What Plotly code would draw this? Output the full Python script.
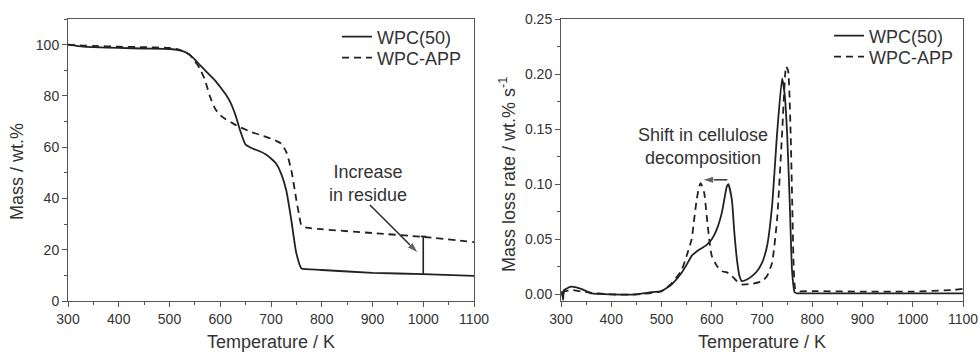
import plotly.graph_objects as go

# ---------- data: TGA (left) ----------
tga_T_wpc = [300, 330, 350, 400, 450, 500, 520, 530, 540, 550, 560, 570, 580, 590, 600, 610, 620, 630,
             640, 650, 660, 670, 680, 690, 700, 710, 720, 730, 740, 750, 760, 770, 800, 900, 1000, 1100]
tga_m_wpc = [100, 99.2, 99.0, 98.7, 98.5, 98.3, 97.8, 97.2, 96.0, 94.2, 92.0, 90.0, 88.0, 86.0, 83.5, 80.8, 77.5,
             72.5, 66.0, 61.0, 59.8, 59.0, 58.2, 57.1, 55.6, 53.6, 49.7, 43.2, 31.6, 18.6, 12.7, 12.4, 12.1,
             11.0, 10.5, 9.8]

tga_T_app = [300, 330, 350, 400, 450, 500, 520, 540, 550, 560, 570, 580, 590, 600, 610, 620, 630, 640,
             660, 680, 700, 710, 720, 730, 740, 750, 755, 760, 770, 800, 900, 1000, 1100]
tga_m_app = [100, 99.6, 99.5, 99.2, 99.0, 98.7, 98.0, 96.0, 93.5, 90.6, 86.1, 79.6, 75.0, 72.5, 71.0, 69.9, 68.7, 67.7,
             66.0, 64.7, 63.4, 62.5, 61.4, 58.2, 51.0, 39.4, 34.0, 29.6, 28.6, 28.0, 26.5, 25.0, 23.0]

# ---------- data: DTG (right) ----------
dtg_T_wpc = [302, 304, 306, 310, 320, 340, 360, 400, 450, 480, 500, 520, 540, 550, 560, 570, 580, 590, 600,
             610, 620, 630, 633, 640, 645, 650, 655, 660, 670, 680, 690, 700, 710, 720, 730, 740, 745, 750,
             755, 760, 765, 770, 800, 900, 1000, 1100]
dtg_r_wpc = [0.003, -0.005, 0.004, 0.005, 0.007, 0.005, 0.001, 0.0, 0.0, 0.002, 0.003, 0.009, 0.0196, 0.027, 0.035,
             0.039, 0.042, 0.045, 0.050, 0.059, 0.074, 0.098, 0.100, 0.086, 0.056, 0.032, 0.017, 0.012, 0.0135,
             0.0166, 0.021, 0.0286, 0.0437, 0.080, 0.146, 0.196, 0.182, 0.146, 0.086, 0.020, 0.002, 0.001,
             0.001, 0.001, 0.001, 0.001]

dtg_T_app = [302, 304, 306, 310, 320, 350, 400, 450, 500, 520, 540, 550, 560, 565, 570, 575, 578, 585, 590, 595,
             600, 610, 620, 630, 640, 650, 660, 680, 700, 710, 720, 730, 740, 748, 752, 757, 760, 763, 766,
             770, 800, 900, 1000, 1080, 1100]
dtg_r_app = [0.002, -0.004, 0.003, 0.003, 0.004, 0.002, 0.0, 0.0, 0.003, 0.010, 0.022, 0.035, 0.050, 0.068, 0.086,
             0.098, 0.101, 0.092, 0.071, 0.050, 0.035, 0.026, 0.021, 0.020, 0.0166, 0.012, 0.009, 0.0096,
             0.012, 0.0166, 0.0286, 0.068, 0.146, 0.207, 0.203, 0.146, 0.086, 0.026, 0.005, 0.003, 0.003,
             0.0025, 0.0025, 0.004, 0.005]

series_names = ["WPC(50)", "WPC-APP"]
x_ticks = [300, 400, 500, 600, 700, 800, 900, 1000, 1100]

# annotation anchors (data coordinates)
residue_arrow_T = [895, 990]
residue_arrow_m = [37.4, 18.7]
residue_bar_T = 1000
residue_bar_m = [10.5, 25.2]
shift_arrow_T = [631, 581]
shift_arrow_r = [0.104, 0.104]

INK = "#222222"
FRAME = "#555555"
TXT = "#333333"
FONT = "Liberation Sans, Arial, sans-serif"
DASH = "7px,5px"

fig = go.Figure()
fig.add_trace(go.Scatter(x=tga_T_wpc, y=tga_m_wpc, mode="lines", name=series_names[0],
                         line=dict(color=INK, width=1.8, shape="spline", smoothing=0.6),
                         xaxis="x", yaxis="y", legend="legend"))
fig.add_trace(go.Scatter(x=tga_T_app, y=tga_m_app, mode="lines", name=series_names[1],
                         line=dict(color=INK, width=1.8, dash=DASH, shape="spline", smoothing=0.6),
                         xaxis="x", yaxis="y", legend="legend2"))
fig.add_trace(go.Scatter(x=dtg_T_wpc, y=dtg_r_wpc, mode="lines", name=series_names[0],
                         line=dict(color=INK, width=1.8, shape="spline", smoothing=0.5),
                         xaxis="x2", yaxis="y2", legend="legend3"))
fig.add_trace(go.Scatter(x=dtg_T_app, y=dtg_r_app, mode="lines", name=series_names[1],
                         line=dict(color=INK, width=1.8, dash=DASH, shape="spline", smoothing=0.5),
                         xaxis="x2", yaxis="y2", legend="legend4"))

# arrows
fig.add_trace(go.Scatter(x=residue_arrow_T, y=residue_arrow_m, mode="lines+markers", showlegend=False,
                         line=dict(color=INK, width=1.4),
                         marker=dict(symbol="arrow", angleref="previous", size=[0, 12], color=INK),
                         xaxis="x", yaxis="y", hoverinfo="skip"))
fig.add_trace(go.Scatter(x=[residue_bar_T, residue_bar_T], y=residue_bar_m, mode="lines", showlegend=False,
                         line=dict(color=INK, width=1.6), xaxis="x", yaxis="y", hoverinfo="skip"))
fig.add_trace(go.Scatter(x=[residue_bar_T - 5, residue_bar_T + 5], y=[residue_bar_m[1]] * 2, mode="lines",
                         showlegend=False, line=dict(color=INK, width=1.6), xaxis="x", yaxis="y",
                         hoverinfo="skip"))
fig.add_trace(go.Scatter(x=shift_arrow_T, y=shift_arrow_r, mode="lines+markers", showlegend=False,
                         line=dict(color=INK, width=1.4),
                         marker=dict(symbol="arrow", angleref="previous", size=[0, 12], color=INK),
                         xaxis="x2", yaxis="y2", hoverinfo="skip"))

W, H = 980, 352
ydom = [1 - 301 / H, 1 - 19 / H]

common_x = dict(
    tickvals=x_ticks, ticks="outside", ticklen=5, tickwidth=1, tickcolor=FRAME,
    showline=True, linecolor=FRAME, linewidth=1, mirror=True, showgrid=False, zeroline=False,
    tickfont=dict(size=14, color=TXT, family=FONT), automargin=False,
    minor=dict(ticks="outside", ticklen=3, dtick=50, tickcolor=FRAME, showgrid=False),
)


def leg(xpx, ypx):
    return dict(x=xpx / W, y=1 - ypx / H, xanchor="left", yanchor="middle",
                bgcolor="rgba(0,0,0,0)", font=dict(size=18, color=TXT, family=FONT),
                borderwidth=0)


fig.update_layout(
    width=W, height=H,
    margin=dict(l=0, r=0, t=0, b=0, autoexpand=False),
    paper_bgcolor="white", plot_bgcolor="white",
    font=dict(family=FONT, color=TXT),
    xaxis=dict(domain=[68 / W, 474 / W], range=[300, 1100], anchor="y", **common_x),
    yaxis=dict(domain=ydom, range=[0, 110], anchor="x", automargin=False,
               tickvals=[0, 20, 40, 60, 80, 100], ticks="outside", ticklen=5, tickcolor=FRAME,
               showline=True, linecolor=FRAME, linewidth=1, mirror=True, showgrid=False, zeroline=False,
               tickfont=dict(size=14, color=TXT, family=FONT),
               minor=dict(ticks="outside", ticklen=3, dtick=10, tickcolor=FRAME, showgrid=False)),
    xaxis2=dict(domain=[561 / W, 963 / W], range=[300, 1100], anchor="y2", **common_x),
    yaxis2=dict(domain=ydom, range=[-0.006, 0.25], anchor="x2", automargin=False,
                tickvals=[0, 0.05, 0.10, 0.15, 0.20, 0.25], tickformat=".2f",
                ticks="outside", ticklen=5, tickcolor=FRAME,
                showline=True, linecolor=FRAME, linewidth=1, mirror=True, showgrid=False, zeroline=False,
                tickfont=dict(size=14, color=TXT, family=FONT),
                minor=dict(ticks="outside", ticklen=3, dtick=0.025, tickcolor=FRAME, showgrid=False)),
    legend=leg(337, 37),
    legend2=leg(337, 58),
    legend3=leg(829, 36),
    legend4=leg(829, 57),
    showlegend=True,
)

# axis titles
fig.add_annotation(text="Temperature / K", xref="paper", yref="paper", x=(68 + 474) / 2 / W, y=1 - 342 / H,
                   showarrow=False, font=dict(size=18, color=TXT, family=FONT), xanchor="center", yanchor="middle")
fig.add_annotation(text="Temperature / K", xref="paper", yref="paper", x=(561 + 963) / 2 / W, y=1 - 342 / H,
                   showarrow=False, font=dict(size=18, color=TXT, family=FONT), xanchor="center", yanchor="middle")
fig.add_annotation(text="Mass / wt.%", xref="paper", yref="paper", x=17 / W, y=1 - 172 / H, textangle=-90,
                   showarrow=False, font=dict(size=18, color=TXT, family=FONT), xanchor="center", yanchor="middle")
fig.add_annotation(text="Mass loss rate / wt.% s<sup>-1</sup>", xref="paper", yref="paper", x=508 / W, y=1 - 175 / H,
                   textangle=-90, showarrow=False, font=dict(size=18, color=TXT, family=FONT),
                   xanchor="center", yanchor="middle")

# text labels on plots
fig.add_annotation(text="Increase<br>in residue", xref="x", yref="y", x=892, y=46,
                   showarrow=False, font=dict(size=18, color=TXT, family=FONT), align="center")
fig.add_annotation(text="Shift in cellulose<br>decomposition", xref="x2", yref="y2", x=582, y=0.134,
                   showarrow=False, font=dict(size=18, color=TXT, family=FONT), align="center")

fig.write_html("out.html")
